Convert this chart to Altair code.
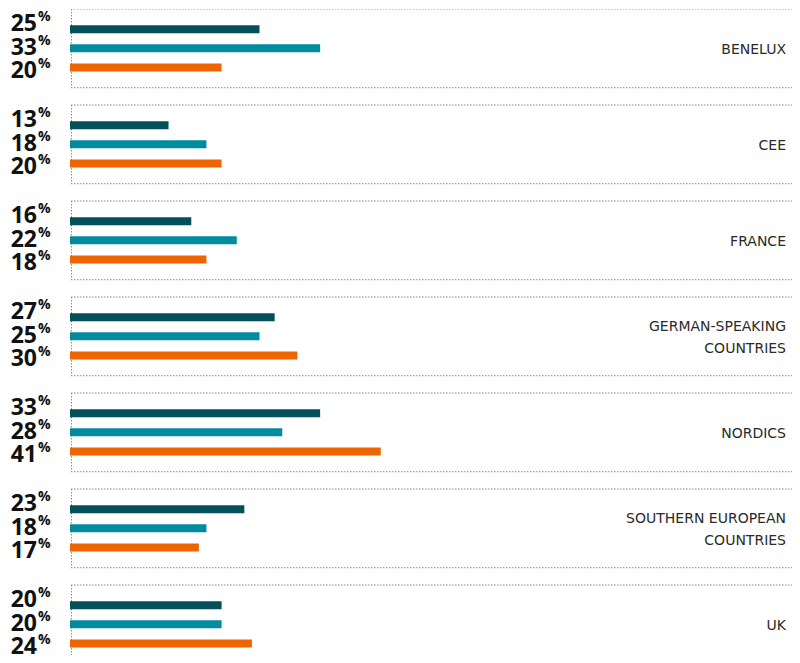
import altair as alt
import pandas as pd

regions = ["BENELUX", "CEE", "FRANCE", "GERMAN-SPEAKING\nCOUNTRIES", "NORDICS",
           "SOUTHERN EUROPEAN\nCOUNTRIES", "UK"]
series = ["Series 1", "Series 2", "Series 3"]
colors = ["#03505B", "#008C9F", "#EC6500"]
values_1 = [25, 13, 16, 27, 33, 23, 20]
values_2 = [33, 18, 22, 25, 28, 18, 20]
values_3 = [20, 20, 18, 30, 41, 17, 24]

SLOT_PX = 19.2   # pixels per vertical slot
SLOTS = 5        # vertical slots per region group
LINE_H = 22      # line height of the region names

rows = []
for i, r in enumerate(regions):
    for j, (s, vals) in enumerate(zip(series, [values_1, values_2, values_3])):
        rows.append({
            "region": r, "series": s, "value": vals[i],
            "slot": i * SLOTS + 1.05 + j,
            "label_slot": i * SLOTS + 1.17 + j * 1.2,
        })
bars = pd.DataFrame(rows)
groups = pd.DataFrame({
    "region": regions,
    "top": [i * SLOTS for i in range(len(regions))],
    "bottom": [i * SLOTS + 4.1 for i in range(len(regions))],
    "center": [i * SLOTS + 2.12 - (r.count("\n") * LINE_H / 2) / SLOT_PX
               for i, r in enumerate(regions)],
})

W, H = 722, 646
xs = alt.Scale(domain=[0, W / 7.58], nice=False, zero=True, padding=0)
ys = alt.Scale(domain=[0, H / SLOT_PX], nice=False, zero=False, reverse=True, padding=0)
dot = dict(color="#8a8a8a", strokeDash=[1.5, 1.5], strokeWidth=1, clip=True)

top_rules = alt.Chart(groups).mark_rule(**dot).encode(
    y=alt.Y("top:Q", scale=ys, axis=None), x=alt.value(1), x2=alt.value(W))
bottom_rules = alt.Chart(groups).mark_rule(**dot).encode(
    y=alt.Y("bottom:Q", scale=ys, axis=None), x=alt.value(1), x2=alt.value(W))
left_rules = alt.Chart(groups).mark_rule(**dot).encode(
    y=alt.Y("top:Q", scale=ys, axis=None), y2="bottom:Q", x=alt.value(1.5))

bar = alt.Chart(bars).mark_bar(orient="horizontal", size=8, clip=True).encode(
    x=alt.X("value:Q", scale=xs, axis=None, stack=None),
    y=alt.Y("slot:Q", scale=ys, axis=None),
    color=alt.Color("series:N", scale=alt.Scale(domain=series, range=colors), legend=None),
)

nums = alt.Chart(bars).mark_text(
    align="right", baseline="alphabetic", font="Open Sans", fontWeight="bold",
    fontSize=23, color="#111111").encode(
    x=alt.value(-33), y=alt.Y("label_slot:Q", scale=ys, axis=None),
    text=alt.Text("value:Q", format="d"))

pct = alt.Chart(bars).mark_text(
    align="left", baseline="alphabetic", font="Open Sans", fontWeight="bold",
    fontSize=14, dy=-10, color="#111111").encode(
    x=alt.value(-32), y=alt.Y("label_slot:Q", scale=ys, axis=None),
    text=alt.value("%"))

names = alt.Chart(groups).mark_text(
    align="right", baseline="middle", font="DejaVu Sans", fontSize=14,
    lineBreak="\n", lineHeight=LINE_H, color="#2a2a2a").encode(
    x=alt.value(716), y=alt.Y("center:Q", scale=ys, axis=None), text="region:N")

chart = alt.layer(top_rules, bottom_rules, left_rules, bar, nums, pct, names).properties(
    width=W, height=H,
    autosize=alt.AutoSizeParams(type="none"),
    padding={"left": 62, "top": 1, "right": 0, "bottom": 0},
    background="white",
).configure_view(strokeWidth=0)

chart.save("out.html", embed_options={"renderer": "svg", "actions": False})
